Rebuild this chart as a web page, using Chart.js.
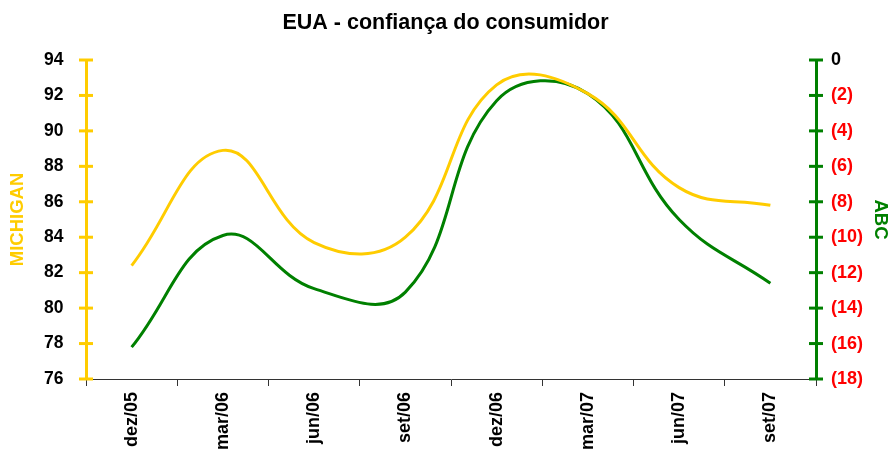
<!DOCTYPE html>
<html>
<head>
<meta charset="utf-8">
<script src="https://cdn.jsdelivr.net/npm/chart.js@4.4.1/dist/chart.umd.min.js"></script>
<style>
  html, body { margin: 0; padding: 0; background: #fff; }
  #wrap { width: 891px; height: 453px; }
</style>
</head>
<body>
<div id="wrap"><canvas id="c" width="891" height="453"></canvas></div>
<script>
const categories = ['dez/05', 'mar/06', 'jun/06', 'set/06', 'dez/06', 'mar/07', 'jun/07', 'set/07'];
const michigan = [82.4, 88.9, 83.7, 84.0, 92.6, 92.1, 86.8, 85.8];
const abc = [-16.2, -9.9, -12.9, -13.1, -2.3, -1.9, -9.0, -12.6];
const leftRange = [76, 94];
const rightRange = [-18, 0];

const YELLOW = '#FFCC00';
const GREEN = '#008000';
const FONT = '"Liberation Sans", Arial, sans-serif';

const tickMarks = {
  id: 'tickMarks',
  afterDraw(chart) {
    const ctx = chart.ctx;
    const draw = (scale, x, color) => {
      ctx.save();
      ctx.strokeStyle = color;
      ctx.lineWidth = 3;
      scale.ticks.forEach(t => {
        const y = scale.getPixelForValue(t.value);
        ctx.beginPath();
        ctx.moveTo(x - 7, y);
        ctx.lineTo(x + 7, y);
        ctx.stroke();
      });
      ctx.restore();
    };
    draw(chart.scales.y, chart.chartArea.left, YELLOW);
    draw(chart.scales.y2, chart.chartArea.right, GREEN);
  }
};

new Chart(document.getElementById('c'), {
  type: 'line',
  data: {
    labels: categories,
    datasets: [
      { label: 'MICHIGAN', data: michigan, yAxisID: 'y', borderColor: YELLOW, borderWidth: 3, pointRadius: 0, tension: 0.42, fill: false },
      { label: 'ABC', data: abc, yAxisID: 'y2', borderColor: GREEN, borderWidth: 3, pointRadius: 0, tension: 0.42, fill: false }
    ]
  },
  options: {
    responsive: false,
    animation: false,
    layout: { padding: 0 },
    plugins: {
      legend: { display: false },
      tooltip: { enabled: false },
      title: {
        display: true,
        text: 'EUA - confiança do consumidor',
        color: '#000',
        font: { family: FONT, size: 21.5, weight: 'bold' },
        padding: { top: 10, bottom: 24.2 }
      }
    },
    scales: {
      x: {
        type: 'category',
        offset: true,
        grid: { display: true, offset: true, drawOnChartArea: false, drawTicks: true, tickLength: 7, color: '#333', lineWidth: 1 },
        border: { display: true, color: '#333', width: 1 },
        ticks: {
          autoSkip: false, minRotation: 90, maxRotation: 90, padding: 6,
          color: '#000', font: { family: FONT, size: 18, weight: 'bold' }
        },
        afterFit(scale) { scale.height = 74; }
      },
      y: {
        position: 'left',
        min: leftRange[0], max: leftRange[1],
        grid: { display: false, drawTicks: false },
        border: { display: true, color: YELLOW, width: 3 },
        ticks: { stepSize: 2, padding: 22.5, color: '#000', font: { family: FONT, size: 17.5, weight: 'bold' } },
        title: { display: true, text: 'MICHIGAN', color: YELLOW, padding: { top: 7, bottom: 0 }, font: { family: FONT, size: 18.5, weight: 'bold' } },
        afterFit(scale) { scale.width = 86; }
      },
      y2: {
        position: 'right',
        min: rightRange[0], max: rightRange[1],
        grid: { display: false, drawTicks: false },
        border: { display: true, color: GREEN, width: 3 },
        ticks: {
          stepSize: 2, padding: 15,
          color: ctx => (ctx.tick && ctx.tick.value < 0 ? '#FF0000' : '#000'),
          font: { family: FONT, size: 18, weight: 'bold' },
          callback: v => (v < 0 ? '(' + Math.abs(v) + ')' : String(v))
        },
        title: { display: true, text: 'ABC', color: GREEN, padding: { top: 0, bottom: 0 }, font: { family: FONT, size: 18.5, weight: 'bold' } },
        afterFit(scale) { scale.width = 75; }
      }
    }
  },
  plugins: [tickMarks]
});
</script>
</body>
</html>
